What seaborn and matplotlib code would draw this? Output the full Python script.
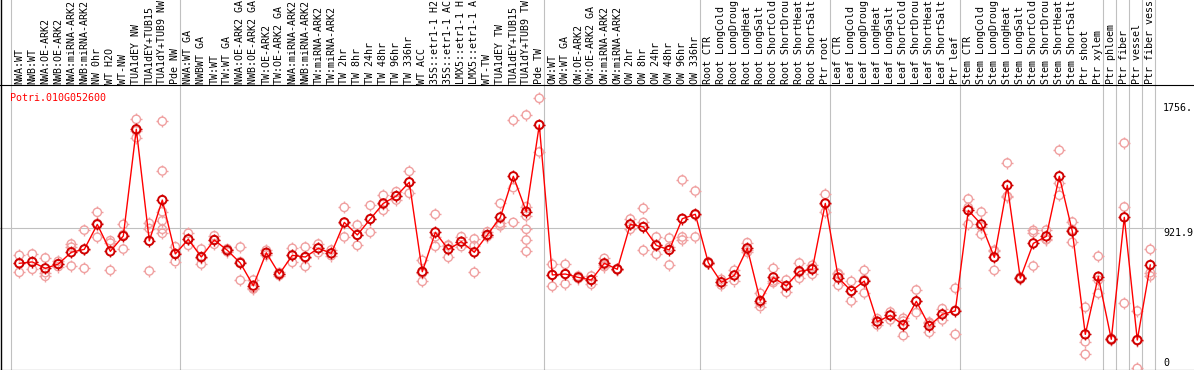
import matplotlib
matplotlib.use("Agg")
import matplotlib.pyplot as plt
from matplotlib.path import Path
import numpy as np
import pandas as pd
import seaborn as sns

# ---------------- data ----------------
title = "Potri.010G052600"

labels = [
    "NWA:WT", "NWB:WT", "NWA:OE-ARK2", "NWB:OE-ARK2", "NWA:miRNA-ARK2", "NWB:miRNA-ARK2",
    "NW 0hr", "WT H2O", "WT-NW", "TUA1dEY NW", "TUA1dEY+TUB15", "TUA1dY+TUB9 NW", "Pde NW",
    "NWA:WT GA", "NWBWT GA", "TW:WT", "TW:WT GA", "NWA:OE-ARK2 GA", "NWB:OE-ARK2 GA",
    "TW:OE-ARK2", "TW:OE-ARK2 GA", "NWA:miRNA-ARK2", "NWB:miRNA-ARK2", "TW:miRNA-ARK2",
    "TW:miRNA-ARK2", "TW 2hr", "TW 8hr", "TW 24hr", "TW 48hr", "TW 96hr", "TW 336hr",
    "WT ACC", "35S::etr1-1 H2", "35S::etr1-1 AC", "LMX5::etr1-1 H", "LMX5::etr1-1 A",
    "WT-TW", "TUA1dEY TW", "TUA1dEY+TUB15", "TUA1dY+TUB9 TW", "Pde TW",
    "OW:WT", "OW:WT GA", "OW:OE-ARK2", "OW:OE-ARK2 GA", "OW:miRNA-ARK2", "OW:miRNA-ARK2",
    "OW 2hr", "OW 8hr", "OW 24hr", "OW 48hr", "OW 96hr", "OW 336hr",
    "Root CTR", "Root LongCold", "Root LongDroug", "Root LongHeat", "Root LongSalt",
    "Root ShortCold", "Root ShortDrou", "Root ShortHeat", "Root ShortSalt", "Ptr root",
    "Leaf CTR", "Leaf LongCold", "Leaf LongDroug", "Leaf LongHeat", "Leaf LongSalt",
    "Leaf ShortCold", "Leaf ShortDrou", "Leaf ShortHeat", "Leaf ShortSalt", "Ptr leaf",
    "Stem CTR", "Stem LongCold", "Stem LongDroug", "Stem LongHeat", "Stem LongSalt",
    "Stem ShortCold", "Stem ShortDrou", "Stem ShortHeat", "Stem ShortSalt", "Ptr shoot",
    "Ptr xylem", "Ptr phloem", "Ptr fiber", "Ptr vessel", "Ptr fiber vess",
]

means = [
    690, 699, 657, 685, 762, 781, 944, 768, 868, 1565, 836, 1103, 751,
    847, 731, 842, 775, 692, 544, 759, 620, 742, 731, 788, 755, 957, 875, 979,
    1081, 1129, 1219, 635, 892, 781, 831, 762, 875, 990, 1258, 1027, 1593,
    614, 620, 598, 581, 690, 651, 944, 927, 807, 777, 981, 1010,
    694, 566, 611, 788, 444, 598, 542, 638, 651, 1081,
    596, 509, 574, 309, 350, 287, 442, 281, 357, 379,
    1036, 944, 729, 1199, 592, 820, 866, 1258, 899, 226,
    603, 194, 990, 189, 679,
]

replicates = [
    [742, 690, 631], [751, 699, 651], [725, 629, 605], [703, 685, 668],
    [816, 795, 672], [907, 780, 657], [1023, 950, 860], [838, 822, 644],
    [944, 877, 783], [1630, 1555, 1510], [951, 917, 640],
    [1617, 1293, 1027, 968, 912, 886], [799, 754, 701],
    [886, 848, 807], [783, 725, 685], [870, 842, 814], [785, 775, 765],
    [796, 700, 579], [581, 530, 522], [775, 759, 744], [630, 620, 610],
    [788, 742, 696], [796, 727, 670], [816, 788, 759], [777, 755, 740],
    [1055, 955, 862], [940, 877, 807], [1068, 978, 892], [1134, 1075, 1036],
    [1158, 1127, 1103], [1290, 1219, 1147], [709, 625, 572], [1010, 863, 801],
    [809, 805, 729], [864, 831, 799], [849, 805, 631], [896, 875, 864],
    [1081, 951, 934], [1623, 1184, 957], [1658, 1060, 999, 912, 842, 768],
    [1767, 1595, 1417],
    [683, 614, 540], [683, 620, 555], [607, 598, 590], [607, 583, 553],
    [722, 680, 668], [655, 651, 647], [979, 944, 912], [1049, 957, 775],
    [862, 807, 749], [855, 794, 679], [1234, 862, 842], [1162, 1005, 862],
    [700, 694, 688], [585, 566, 548], [644, 612, 577], [825, 778, 762],
    [494, 431, 407], [657, 575, 564], [581, 545, 500], [692, 630, 592],
    [677, 658, 618], [1140, 1080, 1025],
    [624, 618, 546], [572, 512, 444], [644, 583, 496], [329, 309, 287],
    [372, 350, 320], [331, 313, 218], [516, 442, 368], [305, 298, 239],
    [394, 357, 320], [527, 383, 226],
    [1110, 1054, 944], [1025, 929, 879], [768, 775, 644], [1345, 1127, 1125],
    [600, 592, 586], [905, 890, 672], [907, 847, 844], [1428, 1212, 1134],
    [960, 910, 827], [403, 178, 96],
    [736, 580, 494], [200, 194, 188], [1475, 1058, 429], [379, 185, 4],
    [781, 629, 607],
]

group_ends = [-1, 12, 40, 52, 62, 72, 83, 84, 85, 86, 87]
ytick_values = [1756, 921.9, 0]
ytick_labels = ["1756.", "921.9", "0"]

# ---------------- layout ----------------
W, H = 1194, 370
X0_PX, DX_PX = 19.3, 13.0          # pixel x of first sample, pixels per sample
Y0_PX, YTOP_PX, YTOP_V = 369.0, 100.0, 1756.0
PPU = (Y0_PX - YTOP_PX) / YTOP_V   # pixels per unit


def vy(px_from_top):
    return (Y0_PX - px_from_top) / PPU


def vx(px):
    return (px - X0_PX) / DX_PX


mono = "DejaVu Sans Mono"
FS = 7.2
RED = "#ff0000"
MEAN_EDGE = "#d00000"
REP_EDGE = "#f0a0a0"
GRID = "#c0c0c0"

fig = plt.figure(figsize=(W / 100, H / 100), dpi=100)
ax = fig.add_axes([0, 0, 1, 1])
ax.set_xlim(vx(0), vx(W))
ax.set_ylim(vy(H), vy(0))

# separators and grid
for k in group_ends:
    ax.axvline(k + 5.0 / DX_PX, color=GRID, lw=0.8, zorder=0)
ax.axhline(921.9, xmin=0, xmax=1163 / W, color=GRID, lw=0.8, zorder=0)
ax.axhline(vy(85.5), color="black", lw=0.8, zorder=1)
ax.axhline(vy(369.5), color="black", lw=0.8, zorder=1)
ax.axvline(vx(0.5), color="black", lw=1.0, zorder=1)

# tick-only marker (four short strokes around the circle)
tick_v = [[0, 0.69], [0, 1.0], [0, -0.69], [0, -1.0],
          [0.69, 0], [1.0, 0], [-0.69, 0], [-1.0, 0]]
tick_c = [Path.MOVETO, Path.LINETO] * 4
ticks = Path(tick_v, tick_c)

idx = np.arange(len(means))
rep_df = pd.DataFrame(
    [(i, v) for i, vals in enumerate(replicates) for v in vals], columns=["idx", "value"]
)
mean_df = pd.DataFrame({"idx": idx, "value": means})

CIRC_S = 36     # circle ~8 px across
TICK_S = 72     # tick marker ~11.5 px across

for df, col, lw, z in [(rep_df, REP_EDGE, 1.0, 2), (mean_df, MEAN_EDGE, 1.4, 4)]:
    if z == 4:
        sns.lineplot(data=mean_df, x="idx", y="value", color=RED, lw=1.0, ax=ax,
                     zorder=3, legend=False)
    sns.scatterplot(data=df, x="idx", y="value", marker="o", s=CIRC_S, facecolors="none",
                    edgecolors=col, linewidths=lw, ax=ax, zorder=z, legend=False)
    sns.scatterplot(data=df, x="idx", y="value", marker=ticks, s=TICK_S,
                    facecolors="none", edgecolors=col, linewidths=1.0, ax=ax, zorder=z,
                    legend=False)
ax.axis("off")

# column labels (rotated)
for i, lab in enumerate(labels):
    ax.text(i, vy(84.0), lab, rotation=90, ha="center", va="bottom",
            fontfamily=mono, fontsize=FS, color="black", zorder=5)

# title
ax.text(vx(9.5), vy(101.3), title, ha="left", va="baseline",
        fontfamily=mono, fontsize=FS, color=RED, zorder=5)

# right-hand value labels
baseline_offsets = [11.0, 8.5, -3.5]
for v, lab, off in zip(ytick_values, ytick_labels, baseline_offsets):
    ypx = Y0_PX - v * PPU + off
    ax.text(vx(1163), vy(ypx), lab, ha="left", va="baseline",
            fontfamily=mono, fontsize=FS, color="black", zorder=5)

fig.savefig("out.png", dpi=100, facecolor="white")
